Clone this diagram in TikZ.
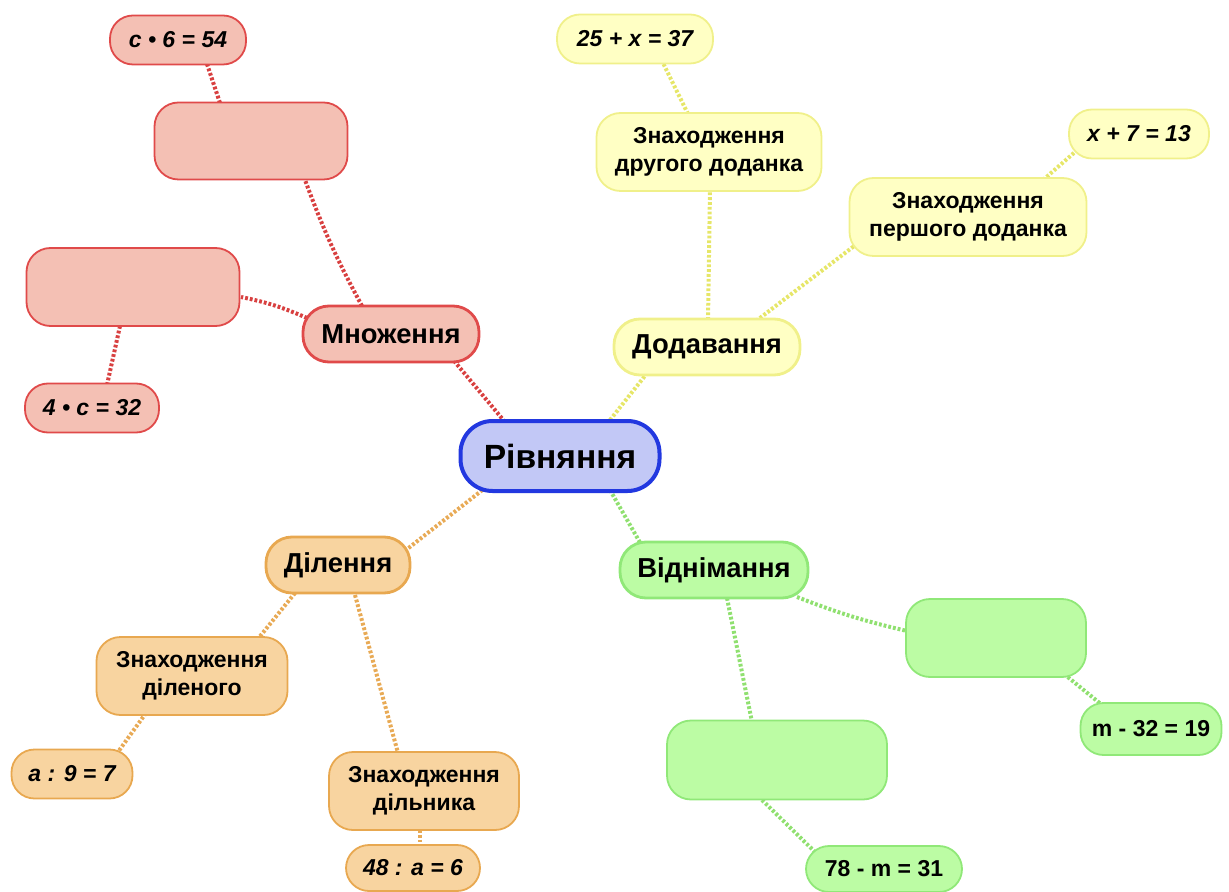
\documentclass[tikz,border=0pt]{standalone}
\usepackage{fontspec}
\setmainfont{Liberation Sans}
\usetikzlibrary{calc,backgrounds}

\definecolor{bluedraw}{HTML}{2238E0}
\definecolor{bluefill}{HTML}{C2C8F6}
\definecolor{reddraw}{HTML}{E04A4A}
\definecolor{redfill}{HTML}{F4C0B4}
\definecolor{redline}{HTML}{D84040}
\definecolor{yeldraw}{HTML}{F0F08A}
\definecolor{yelfill}{HTML}{FFFFC4}
\definecolor{yelline}{HTML}{E6E668}
\definecolor{ordraw}{HTML}{E8A850}
\definecolor{orfill}{HTML}{F8D4A0}
\definecolor{orline}{HTML}{E8AA55}
\definecolor{grdraw}{HTML}{90E878}
\definecolor{grfill}{HTML}{BCFCA4}
\definecolor{grline}{HTML}{90E070}

\tikzset{
  box/.style={rectangle, rounded corners=12pt, inner sep=0pt, align=center,
    font=\bfseries\fontsize{11.5pt}{14pt}\selectfont},
  bsize/.style 2 args={minimum width=#1pt, minimum height=#2pt},
  root/.style={box, draw=bluedraw, fill=bluefill, line width=2pt, rounded corners=16pt,
    font=\bfseries\fontsize{16.8pt}{20pt}\selectfont},
  branch/.style={box, line width=1.4pt, rounded corners=13pt,
    font=\bfseries\fontsize{13.7pt}{16pt}\selectfont},
  leaf/.style={box, line width=0.9pt},
  eqn/.style={box, line width=0.9pt, rounded corners=11.5pt,
    font=\bfseries\itshape\fontsize{11.5pt}{14pt}\selectfont},
  eqnup/.style={eqn, font=\bfseries\fontsize{11.5pt}{14pt}\selectfont},
  redn/.style={draw=reddraw, fill=redfill},
  yeln/.style={draw=yeldraw, fill=yelfill},
  orn/.style={draw=ordraw, fill=orfill},
  grn/.style={draw=grdraw, fill=grfill},
  conn/.style={line width=2pt, dash pattern=on 1.4pt off 1pt},
}

\begin{document}
\begin{tikzpicture}[x=0.5pt, y=-0.5pt]
\useasboundingbox (0,0) rectangle (1229,892);

% centre
\node[root, bsize={99.5}{35}] (riv) at (560,456) {Рівняння};

% multiplication branch
\node[branch, redn, bsize={88}{28}] (mn) at (391,334) {Множення};
\node[leaf, redn, bsize={96.5}{38.5}] (r1) at (251,141) {};
\node[eqn, redn, bsize={68}{24.5}] (ceq) at (178,40) {c • 6 = 54};
\node[leaf, redn, bsize={106.5}{39}] (r2) at (133,287) {};
\node[eqn, redn, bsize={67}{24.5}] (c4) at (92,408) {4 • c = 32};

% addition branch
\node[branch, yeln, bsize={93}{28}] (dod) at (707,347) {Додавання};
\node[leaf, yeln, bsize={112.5}{39}] (s2) at (709,152) {Знаходження\\другого доданка};
\node[eqn, yeln, bsize={78}{24.5}] (e25) at (635,39) {25 + x = 37};
\node[leaf, yeln, bsize={118.5}{39}] (s1) at (968,217) {Знаходження\\першого доданка};
\node[eqn, yeln, bsize={70}{24.5}] (x7) at (1139,134) {x + 7 = 13};

% division branch
\node[branch, orn, bsize={72}{28}] (dil) at (338,565) {Ділення};
\node[leaf, orn, bsize={95.5}{39}] (sdil) at (192,676) {Знаходження\\діленого};
\node[eqn, orn, bsize={60.5}{24.5}] (a9) at (72,774) {a : 9 = 7};
\node[leaf, orn, bsize={95}{39}] (sdl) at (424,791) {Знаходження\\дільника};
\node[eqn, orn, bsize={67}{23}] (e48) at (413,868) {48 : a = 6};

% subtraction branch
\node[branch, grn, bsize={94}{28}] (vid) at (714,570) {Віднімання};
\node[leaf, grn, bsize={90}{39}] (g1) at (996,638) {};
\node[leaf, grn, bsize={110}{39.5}] (g2) at (777,760) {};
\node[eqnup, grn, bsize={70.5}{26}] (m32) at (1151,729) {m - 32 = 19};
\node[eqnup, grn, bsize={78}{23}] (m78) at (884,869) {78 - m = 31};

% dotted connectors, kept under the boxes
\begin{pgfonlayer}{background}
\draw[conn, redline] ($(riv)+(-55,-34)$) -- ($(mn)+(64,28)$);
\draw[conn, redline] ($(mn)+(-29,-28)$) to[bend left=4] ($(r1)+(54,39)$);
\draw[conn, redline] ($(r1)+(-31,-38)$) -- ($(ceq)+(29,24)$);
\draw[conn, redline] ($(mn)+(-84,-16)$) to[bend right=6] ($(r2)+(108,10)$);
\draw[conn, redline] ($(r2)+(-13,39)$) -- ($(c4)+(15,-23)$);

\draw[conn, yelline] ($(riv)+(50,-36)$) -- ($(dod)+(-59,25)$);
\draw[conn, yelline] ($(dod)+(1,-27)$) -- ($(s2)+(1,38)$);
\draw[conn, yelline] ($(s2)+(-21,-38)$) -- ($(e25)+(28,24)$);
\draw[conn, yelline] ($(dod)+(49,-26)$) -- ($(s1)+(-106,23)$);
\draw[conn, yelline] ($(s1)+(75,-37)$) -- ($(x7)+(-64,18)$);

\draw[conn, orline] ($(riv)+(-70,28)$) -- ($(dil)+(68,-15)$);
\draw[conn, orline] ($(dil)+(-43,28)$) -- ($(sdil)+(65,-36)$);
\draw[conn, orline] ($(sdil)+(-46,37)$) -- ($(a9)+(46,-22)$);
\draw[conn, orline] ($(dil)+(17,30)$) -- ($(sdl)+(-26,-38)$);
\draw[conn, orline] ($(sdl)+(-4,39)$) -- ($(e48)+(7,-22)$);

\draw[conn, grline] ($(riv)+(50,34)$) -- ($(vid)+(-72,-24)$);
\draw[conn, grline] ($(vid)+(83,27)$) to[bend right=4] ($(g1)+(-89,-7)$);
\draw[conn, grline] ($(vid)+(13,28)$) -- ($(g2)+(-25,-38)$);
\draw[conn, grline] ($(g1)+(68,36)$) -- ($(m32)+(-49,-24)$);
\draw[conn, grline] ($(g2)+(-15,40)$) -- ($(m78)+(-70,-18)$);
\end{pgfonlayer}
\end{tikzpicture}
\end{document}
